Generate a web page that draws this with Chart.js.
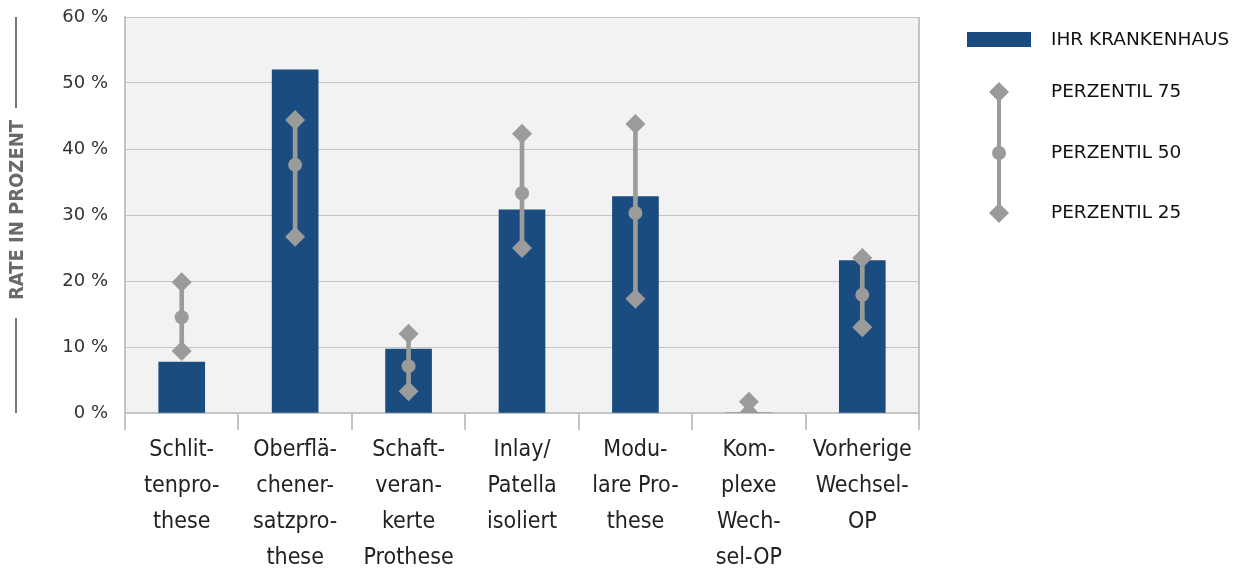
<!DOCTYPE html>
<html>
<head>
<meta charset="utf-8">
<script src="https://cdn.jsdelivr.net/npm/chart.js@4/dist/chart.umd.min.js"></script>
<style>
  body { margin: 0; background: #fff; }
  #wrap { width: 1238px; height: 573px; position: relative; }
</style>
</head>
<body>
<div id="wrap"><canvas id="chart"></canvas></div>
<script>
// Data
const categories = [
    ['Schlit-', 'tenpro-', 'these'],
    ['Oberflä-', 'chener-', 'satzpro-', 'these'],
    ['Schaft-', 'veran-', 'kerte', 'Prothese'],
    ['Inlay/', 'Patella', 'isoliert'],
    ['Modu-', 'lare Pro-', 'these'],
    ['Kom-', 'plexe', 'Wech-', 'sel-OP'],
    ['Vorherige', 'Wechsel-', 'OP']
];
const hospital = [7.7, 52.0, 9.7, 30.8, 32.8, 0, 23.1];
const p75 = [19.8, 44.4, 12.0, 42.3, 43.8, 1.7, 23.5];
const p50 = [14.5, 37.6, 7.1, 33.3, 30.3, 0, 17.9];
const p25 = [9.4, 26.7, 3.3, 25.0, 17.3, 0, 13.0];
const yTicks = [0, 10, 20, 30, 40, 50, 60];

const legendLabels = ['IHR KRANKENHAUS', 'PERZENTIL 75', 'PERZENTIL 50', 'PERZENTIL 25'];

const barColor = '#1b4c7f';
const pctColor = '#9b9b9b';
const condensed = '"Liberation Sans Narrow", "DejaVu Sans Condensed", "DejaVu Sans", sans-serif';

// plot background
const plotBg = {
    id: 'plotBg',
    beforeDraw(chart) {
        const a = chart.chartArea, ctx = chart.ctx;
        ctx.save();
        ctx.fillStyle = '#f2f2f2';
        ctx.fillRect(a.left, a.top, a.right - a.left, a.bottom - a.top);
        ctx.restore();
    }
};

// y title with lines, right border + custom legend
const extras = {
    id: 'extras',
    afterDraw(chart) {
        const ctx = chart.ctx, a = chart.chartArea;
        ctx.save();
        ctx.strokeStyle = '#c4c4c4';
        ctx.lineWidth = 2;
        ctx.beginPath();
        ctx.moveTo(a.right, a.top); ctx.lineTo(a.right, a.bottom);
        ctx.stroke();
        ctx.restore();

        // y axis title
        ctx.save();
        ctx.translate(18, 210);
        ctx.rotate(-Math.PI / 2);
        ctx.font = 'bold 20px ' + condensed;
        ctx.fillStyle = '#6a6a6a';
        ctx.textAlign = 'center';
        ctx.textBaseline = 'middle';
        ctx.fillText('RATE IN PROZENT', 0, 0);
        ctx.restore();
        ctx.save();
        ctx.strokeStyle = '#777';
        ctx.lineWidth = 2;
        ctx.beginPath();
        ctx.moveTo(16, a.top); ctx.lineTo(16, 108);
        ctx.moveTo(16, 318); ctx.lineTo(16, a.bottom);
        ctx.stroke();
        ctx.restore();

        // legend
        ctx.save();
        ctx.fillStyle = barColor;
        ctx.fillRect(967, 32, 64, 15);
        ctx.strokeStyle = pctColor;
        ctx.lineWidth = 4;
        ctx.beginPath();
        ctx.moveTo(999, 92); ctx.lineTo(999, 213);
        ctx.stroke();
        ctx.fillStyle = pctColor;
        [92, 213].forEach(y => {
            ctx.beginPath();
            ctx.moveTo(999, y - 10); ctx.lineTo(1009, y); ctx.lineTo(999, y + 10); ctx.lineTo(989, y);
            ctx.closePath(); ctx.fill();
        });
        ctx.beginPath(); ctx.arc(999, 153, 7, 0, Math.PI * 2); ctx.fill();
        ctx.font = '18.5px "DejaVu Sans", sans-serif';
        ctx.fillStyle = '#111';
        ctx.textBaseline = 'middle';
        const ys = [40, 92, 153, 213];
        legendLabels.forEach((t, i) => ctx.fillText(t, 1051, ys[i]));
        ctx.restore();
    }
};

new Chart(document.getElementById('chart'), {
    type: 'bar',
    data: {
        labels: categories,
        datasets: [
            {
                label: legendLabels[0],
                data: hospital,
                backgroundColor: barColor,
                barThickness: 46,
                grouped: false,
                order: 3
            },
            {
                label: 'range',
                data: p25.map((v, i) => [v, p75[i]]),
                backgroundColor: pctColor,
                barThickness: 4,
                grouped: false,
                order: 2
            },
            {
                type: 'line', label: legendLabels[1], data: p75, showLine: false,
                pointStyle: 'rectRot', pointRadius: 10, pointHoverRadius: 10,
                backgroundColor: pctColor, borderColor: pctColor, borderWidth: 0, order: 1
            },
            {
                type: 'line', label: legendLabels[2], data: p50, showLine: false,
                pointStyle: 'circle', pointRadius: 7, pointHoverRadius: 7,
                backgroundColor: pctColor, borderColor: pctColor, borderWidth: 0, order: 1
            },
            {
                type: 'line', label: legendLabels[3], data: p25, showLine: false,
                pointStyle: 'rectRot', pointRadius: 10, pointHoverRadius: 10,
                backgroundColor: pctColor, borderColor: pctColor, borderWidth: 0, order: 1
            }
        ]
    },
    options: {
        responsive: true,
        maintainAspectRatio: false,
        animation: false,
        layout: { padding: { top: 17, right: 319, left: 0, bottom: 0 } },
        plugins: { legend: { display: false }, tooltip: { enabled: false } },
        scales: {
            x: {
                offset: true,
                grid: { offset: true, drawOnChartArea: false, drawTicks: true, tickLength: 17, color: '#c4c4c4', lineWidth: 2 },
                border: { display: true, color: '#c4c4c4', width: 2 },
                ticks: {
                    font: { family: condensed, size: 23, lineHeight: 1.57 },
                    color: '#222',
                    maxRotation: 0,
                    autoSkip: false,
                    padding: 2
                },
                afterFit(scale) {
                    scale.height = 160;
                    scale.paddingTop = 0; scale.paddingBottom = 0;
                }
            },
            y: {
                min: yTicks[0],
                max: yTicks[yTicks.length - 1],
                afterBuildTicks(scale) { scale.ticks = yTicks.map(v => ({ value: v })); },
                grid: { color: '#c4c4c4', lineWidth: 1, drawTicks: false },
                border: { display: true, color: '#c4c4c4', width: 2 },
                ticks: {
                    callback: v => v + ' %',
                    font: { family: '"DejaVu Sans", sans-serif', size: 18 },
                    color: '#333',
                    padding: 17
                },
                afterFit(scale) {
                    scale.width = 125;
                    scale.paddingTop = 0; scale.paddingBottom = 0;
                }
            }
        }
    },
    plugins: [plotBg, extras]
});
</script>
</body>
</html>
